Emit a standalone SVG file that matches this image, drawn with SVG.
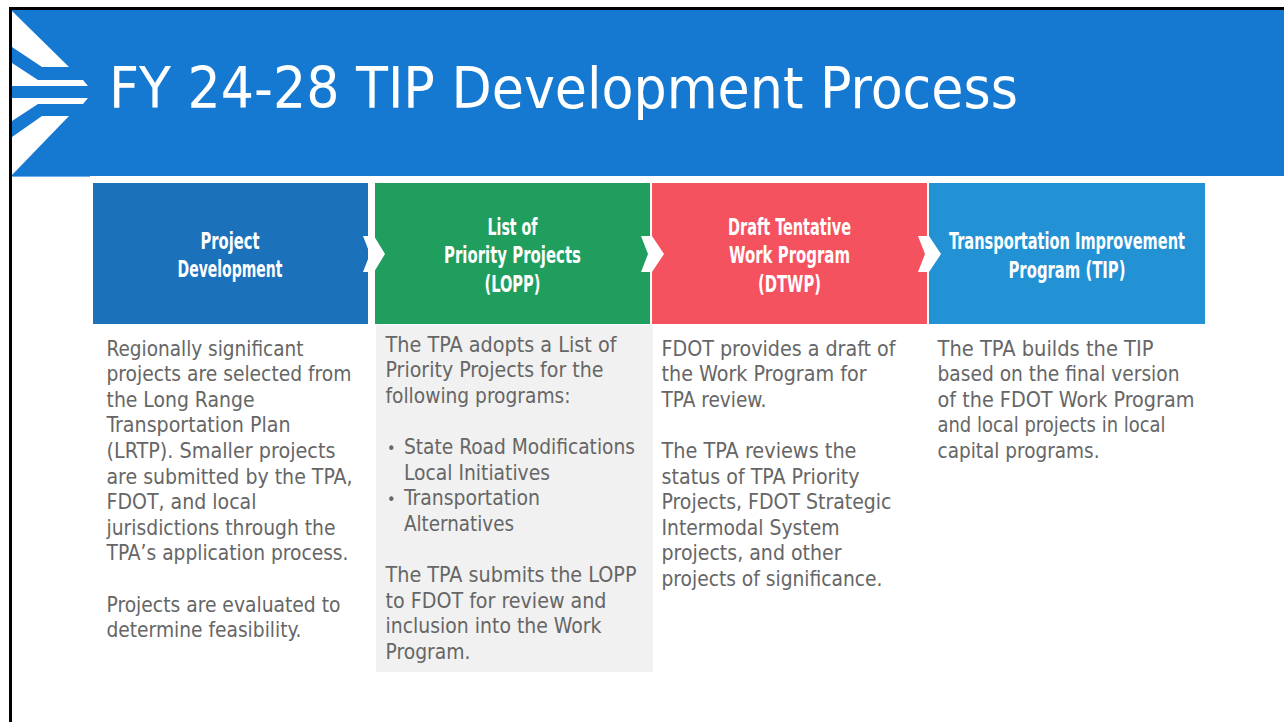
<svg xmlns="http://www.w3.org/2000/svg" width="1284" height="722" viewBox="0 0 1284 722">
<style>
.h{font-family:"Liberation Sans Narrow","DejaVu Sans Condensed","Liberation Sans",sans-serif;font-weight:700;font-size:23px;fill:#fff;text-anchor:middle}
.b{font-family:"DejaVu Sans Condensed","DejaVu Sans",sans-serif;font-size:20.5px;fill:#666}
.chev{fill:#fff}
</style>
<rect width="1284" height="722" fill="#fff"/>
<rect x="9" y="7" width="1275" height="715" fill="#000"/>
<rect x="12" y="10" width="1272" height="712" fill="#fff"/>
<g id="header">
<rect x="12" y="10" width="1272" height="166" fill="#1579d2"/>
<rect x="12" y="176" width="78" height="1" fill="#6fb0e6"/>
<g id="logo" fill="#fff">
<polygon points="12,11 69,67 42,67 12,47"/>
<polygon points="12,63 38,80 83,80 88,86 12,86"/>
<polygon points="12,98 88,98 83,104 38,104 12,121"/>
<polygon points="42,116 69,116 12,175 12,137"/>
</g>
<text x="109" y="108" font-family="'DejaVu Sans Condensed','DejaVu Sans',sans-serif" font-size="57" fill="#fff" textLength="909" lengthAdjust="spacingAndGlyphs">FY 24-28 TIP Development Process</text>
</g>
<g id="panel-lopp"><rect x="376" y="325" width="277" height="347" fill="#f1f1f1"/></g>
<g id="node-project">
<rect x="93" y="183" width="275" height="141" fill="#1c71bb"/>
<text class="h"><tspan x="230" y="249" textLength="59" lengthAdjust="spacingAndGlyphs">Project</tspan><tspan x="230" y="277" textLength="105" lengthAdjust="spacingAndGlyphs">Development</tspan></text>
</g>
<g id="node-lopp">
<rect x="375" y="183" width="275" height="141" fill="#1f9e5e"/>
<text class="h"><tspan x="512.5" y="235" textLength="50" lengthAdjust="spacingAndGlyphs">List of</tspan><tspan x="512.5" y="263" textLength="137" lengthAdjust="spacingAndGlyphs">Priority Projects</tspan><tspan x="512.5" y="292" textLength="56" lengthAdjust="spacingAndGlyphs">(LOPP)</tspan></text>
</g>
<g id="node-dtwp">
<rect x="652" y="183" width="275" height="141" fill="#f5525f"/>
<text class="h"><tspan x="789.5" y="235" textLength="123" lengthAdjust="spacingAndGlyphs">Draft Tentative</tspan><tspan x="789.5" y="263" textLength="121" lengthAdjust="spacingAndGlyphs">Work Program</tspan><tspan x="789.5" y="292" textLength="63" lengthAdjust="spacingAndGlyphs">(DTWP)</tspan></text>
</g>
<g id="node-tip">
<rect x="929" y="183" width="276" height="141" fill="#2392d5"/>
<text class="h"><tspan x="1067" y="249" textLength="236" lengthAdjust="spacingAndGlyphs">Transportation Improvement</tspan><tspan x="1067" y="278" textLength="117" lengthAdjust="spacingAndGlyphs">Program (TIP)</tspan></text>
</g>
<g id="connectors">
<polygon class="chev" points="363,236 374,236 385,254 374,272 363,272 370,254"/>
<polygon class="chev" points="641,236 652,236 664,254 652,272 641,272 648,254"/>
<polygon class="chev" points="918,236 929,236 941,254 929,272 918,272 925,254"/>
</g>
<g id="text-project" class="b">
<text x="106.5" y="356" textLength="197" lengthAdjust="spacingAndGlyphs">Regionally significant</text>
<text x="106.5" y="381" textLength="245" lengthAdjust="spacingAndGlyphs">projects are selected from</text>
<text x="106.5" y="407" textLength="148" lengthAdjust="spacingAndGlyphs">the Long Range</text>
<text x="106.5" y="432" textLength="184" lengthAdjust="spacingAndGlyphs">Transportation Plan</text>
<text x="106.5" y="458" textLength="229" lengthAdjust="spacingAndGlyphs">(LRTP). Smaller projects</text>
<text x="106.5" y="484" textLength="246" lengthAdjust="spacingAndGlyphs">are submitted by the TPA,</text>
<text x="106.5" y="509" textLength="150" lengthAdjust="spacingAndGlyphs">FDOT, and local</text>
<text x="106.5" y="535" textLength="229" lengthAdjust="spacingAndGlyphs">jurisdictions through the</text>
<text x="106.5" y="560" textLength="242" lengthAdjust="spacingAndGlyphs">TPA’s application process.</text>
<text x="106.5" y="612" textLength="234" lengthAdjust="spacingAndGlyphs">Projects are evaluated to</text>
<text x="106.5" y="637" textLength="195" lengthAdjust="spacingAndGlyphs">determine feasibility.</text>
</g>
<g id="text-lopp" class="b">
<text x="385.5" y="351.5" textLength="231" lengthAdjust="spacingAndGlyphs">The TPA adopts a List of</text>
<text x="385.5" y="377" textLength="218" lengthAdjust="spacingAndGlyphs">Priority Projects for the</text>
<text x="385.5" y="402.5" textLength="185" lengthAdjust="spacingAndGlyphs">following programs:</text>
<text x="387" y="454" font-size="16">•</text>
<text x="404" y="454" textLength="231" lengthAdjust="spacingAndGlyphs">State Road Modifications</text>
<text x="404" y="480" textLength="146" lengthAdjust="spacingAndGlyphs">Local Initiatives</text>
<text x="387" y="505" font-size="16">•</text>
<text x="404" y="505" textLength="136" lengthAdjust="spacingAndGlyphs">Transportation</text>
<text x="404" y="531" textLength="110" lengthAdjust="spacingAndGlyphs">Alternatives</text>
<text x="385.5" y="582" textLength="251" lengthAdjust="spacingAndGlyphs">The TPA submits the LOPP</text>
<text x="385.5" y="608" textLength="221" lengthAdjust="spacingAndGlyphs">to FDOT for review and</text>
<text x="385.5" y="633" textLength="216" lengthAdjust="spacingAndGlyphs">inclusion into the Work</text>
<text x="385.5" y="659" textLength="85" lengthAdjust="spacingAndGlyphs">Program.</text>
</g>
<g id="text-dtwp" class="b">
<text x="661.5" y="356" textLength="234" lengthAdjust="spacingAndGlyphs">FDOT provides a draft of</text>
<text x="661.5" y="381" textLength="205" lengthAdjust="spacingAndGlyphs">the Work Program for</text>
<text x="661.5" y="407" textLength="105" lengthAdjust="spacingAndGlyphs">TPA review.</text>
<text x="661.5" y="458" textLength="195" lengthAdjust="spacingAndGlyphs">The TPA reviews the</text>
<text x="661.5" y="484" textLength="198" lengthAdjust="spacingAndGlyphs">status of TPA Priority</text>
<text x="661.5" y="509" textLength="230" lengthAdjust="spacingAndGlyphs">Projects, FDOT Strategic</text>
<text x="661.5" y="535" textLength="178" lengthAdjust="spacingAndGlyphs">Intermodal System</text>
<text x="661.5" y="560" textLength="180" lengthAdjust="spacingAndGlyphs">projects, and other</text>
<text x="661.5" y="586" textLength="221" lengthAdjust="spacingAndGlyphs">projects of significance.</text>
</g>
<g id="text-tip" class="b">
<text x="937.5" y="356" textLength="216" lengthAdjust="spacingAndGlyphs">The TPA builds the TIP</text>
<text x="937.5" y="381" textLength="242" lengthAdjust="spacingAndGlyphs">based on the final version</text>
<text x="937.5" y="407" textLength="257" lengthAdjust="spacingAndGlyphs">of the FDOT Work Program</text>
<text x="937.5" y="432" textLength="228" lengthAdjust="spacingAndGlyphs">and local projects in local</text>
<text x="937.5" y="458" textLength="162" lengthAdjust="spacingAndGlyphs">capital programs.</text>
</g>
</svg>
